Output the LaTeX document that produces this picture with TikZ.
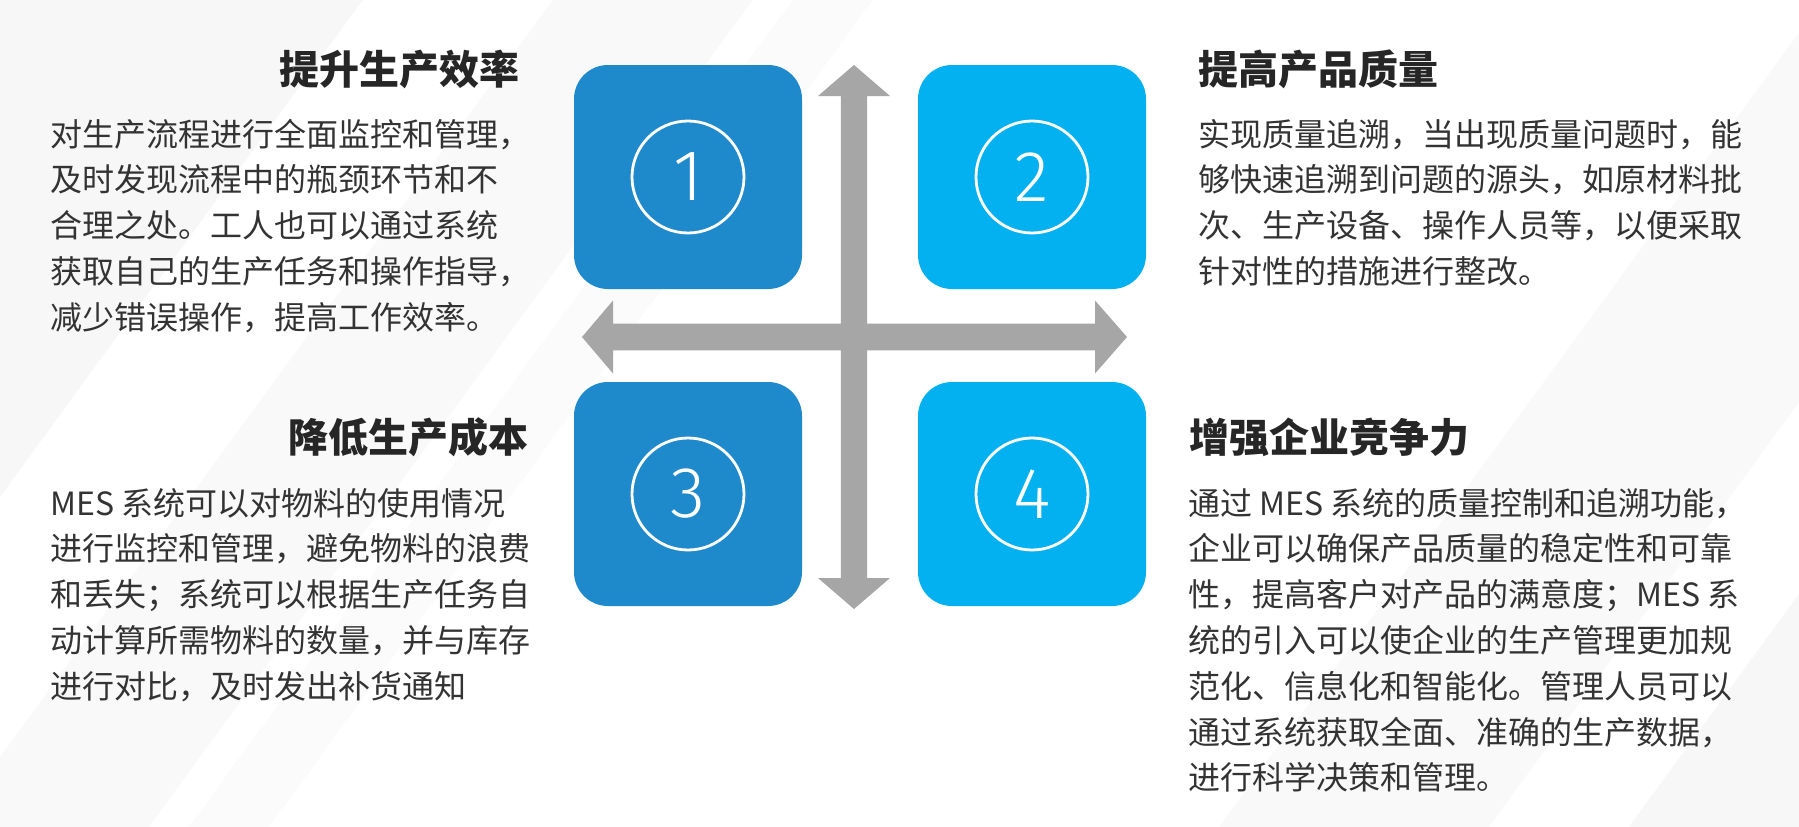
\documentclass[tikz,border=0pt]{standalone}
\usepackage{fontspec}
\newfontfamily\cjk{Noto Sans CJK SC}
\newfontfamily\digitfont{Fira Sans Light}
\definecolor{boxdark}{HTML}{1E89CB}
\definecolor{boxlight}{HTML}{03B1F0}
\definecolor{arrowgray}{HTML}{A6A6A6}
\definecolor{titlecol}{HTML}{262626}
\definecolor{bodycol}{HTML}{333333}
\definecolor{bandcol}{HTML}{F5F5F5}
\tikzset{
  quadbox/.style={rounded corners=34pt, minimum width=228pt, minimum height=224pt, inner sep=0pt, draw=none},
  darkbox/.style={quadbox, fill=boxdark},
  lightbox/.style={quadbox, fill=boxlight},
  numring/.style={circle, draw=white, line width=2.8pt, minimum size=112pt, inner sep=0pt,
    text=white, font=\digitfont\fontsize{72}{72}\selectfont},
  titletext/.style={inner sep=0pt, text=titlecol, font=\cjk\bfseries\fontsize{40}{40}\selectfont},
  bodytext/.style={inner sep=0pt, align=left, text=bodycol, font=\cjk\fontsize{32}{45.8}\selectfont},
  band/.style={fill=bandcol, draw=none},
  bigarrow/.style={fill=arrowgray, draw=none}
}
\begin{document}
\begin{tikzpicture}[x=1pt,y=-1pt]
\useasboundingbox (0,0) rectangle (1799,827);
\fill[white] (0,0) rectangle (1799,827);
% faint diagonal background bands
\begin{scope}
\clip (0,0) rectangle (1799,827);
\fill[band, fill opacity=0.8] (-300,-10) -- (370,-10) -- (-263,857) -- (-933,857) -- cycle;
\fill[band, fill opacity=0.5] (560,-10) -- (760,-10) -- (127,857) -- (-73,857) -- cycle;
\fill[band, fill opacity=0.4] (800,-10) -- (880,-10) -- (247,857) -- (167,857) -- cycle;
\fill[band, fill opacity=0.5] (1830,-10) -- (2100,-10) -- (1467,857) -- (1197,857) -- cycle;
\fill[band, fill opacity=0.8] (2240,-10) -- (2700,-10) -- (2067,857) -- (1607,857) -- cycle;
\end{scope}
% cross arrows
\coordinate (vtop) at (854,65);
\coordinate (vbot) at (854,609);
\coordinate (hleft) at (582,337);
\coordinate (hright) at (1127,337);
\fill[bigarrow] (vtop) -- (890,96) -- (867.2,96) -- (867.2,578) -- (890,578) -- (vbot)
  -- (818,578) -- (840.8,578) -- (840.8,96) -- (818,96) -- cycle;
\fill[bigarrow] (hleft) -- (613,300.5) -- (613,323.7) -- (1095,323.7) -- (1095,300.5) -- (hright)
  -- (1095,373.5) -- (1095,350.3) -- (613,350.3) -- (613,373.5) -- cycle;
% boxes
\node[darkbox]  (b1) at (688,177) {};
\node[lightbox] (b2) at (1032,177) {};
\node[darkbox]  (b3) at (688,494) {};
\node[lightbox] (b4) at (1032,494) {};
\node[numring] (n1) at (b1.center) {1};
\node[numring] (n2) at (b2.center) {2};
\node[numring] (n3) at (b3.center) {3};
\node[numring] (n4) at (b4.center) {4};
% titles
\node[titletext, anchor=base east] (t1) at (520,84) {提升生产效率};
\node[titletext, anchor=base west] (t2) at (1198,84) {提高产品质量};
\node[titletext, anchor=base east] (t3) at (529,452) {降低生产成本};
\node[titletext, anchor=base west] (t4) at (1189,452) {增强企业竞争力};
% bodies (anchored at the baseline of the last line)
\node[bodytext, anchor=base west] (d1) at (50,329.2) {对生产流程进行全面监控和管理，\\及时发现流程中的瓶颈环节和不\\合理之处。工人也可以通过系统\\获取自己的生产任务和操作指导，\\减少错误操作，提高工作效率。};
\node[bodytext, anchor=base west] (d2) at (1198,283.4) {实现质量追溯，当出现质量问题时，能\\够快速追溯到问题的源头，如原材料批\\次、生产设备、操作人员等，以便采取\\针对性的措施进行整改。};
\node[bodytext, anchor=base west] (d3) at (50,698.2) {MES 系统可以对物料的使用情况\\进行监控和管理，避免物料的浪费\\和丢失；系统可以根据生产任务自\\动计算所需物料的数量，并与库存\\进行对比，及时发出补货通知};
\node[bodytext, anchor=base west] (d4) at (1188,789.8) {通过 MES 系统的质量控制和追溯功能，\\企业可以确保产品质量的稳定性和可靠\\性，提高客户对产品的满意度；MES 系\\统的引入可以使企业的生产管理更加规\\范化、信息化和智能化。管理人员可以\\通过系统获取全面、准确的生产数据，\\进行科学决策和管理。};
\end{tikzpicture}
\end{document}
